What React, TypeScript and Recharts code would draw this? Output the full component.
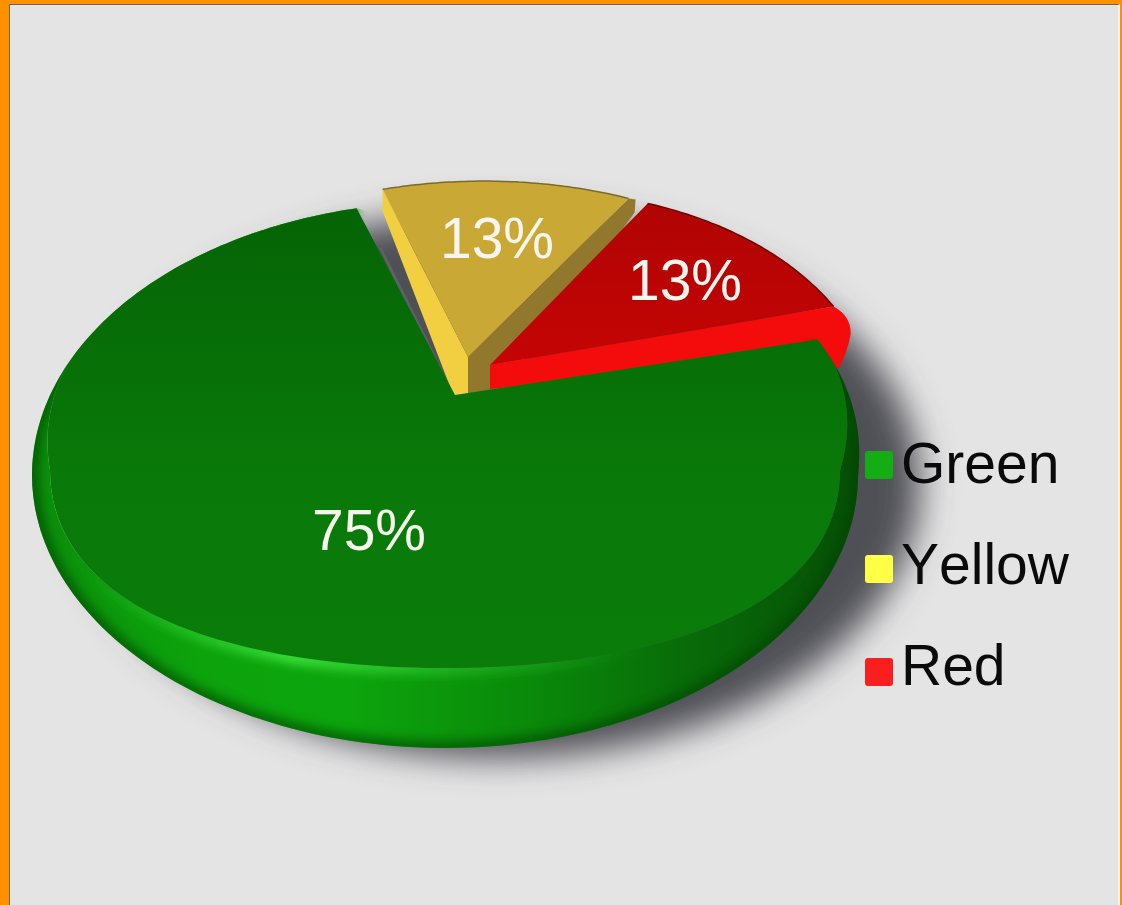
import React from "react";
import { PieChart, Pie, Legend } from "recharts";

// Slice order runs clockwise from the upper edge of the yellow wedge, so the
// big green slice paints last and overlaps the walls of the pulled-out wedges.
const sliceNames = ["Yellow", "Red", "Green"];
const sliceValues = [13, 13, 75];
const legendOrder = ["Green", "Yellow", "Red"];
const swatchColors: Record<string, string> = { Green: "#14ae14", Yellow: "#ffff45", Red: "#fa1e1e" };
const swatchDrop: Record<string, number> = { Green: 2, Yellow: 8, Red: 12 };

const rows = sliceNames.map((name, i) => ({ name, value: sliceValues[i], fill: swatchColors[name] }));

const WIDTH = 1122;
const HEIGHT = 905;
const CX = 445;
const CY = 475;
const RADIUS = 413;
const TILT = 273 / 413;
const PERSPECTIVE = 0.29;
const FONT = '"Liberation Sans", Arial, sans-serif';

type Pt = { x: number; y: number };

// Moves an angle on the flat disc to its place on the tilted, foreshortened one.
function project(deg: number) {
  const a = (deg * Math.PI) / 180;
  const d = 1 + PERSPECTIVE * Math.sin(a);
  return {
    c: (Math.cos(a) * Math.sqrt(1 - PERSPECTIVE * PERSPECTIVE)) / d,
    s: (Math.sin(a) + PERSPECTIVE) / d,
  };
}

function outer(deg: number, cx: number, cy: number, r: number): Pt {
  const { c, s } = project(deg);
  return { x: cx + r * c, y: cy - r * TILT * s };
}

// The far right of the green body swells a little beyond the plain ellipse.
function rightBulge(c: number, s: number) {
  return c > 0 && s > 0 ? 32 * c * s : 0;
}

function silhouette(deg: number, cx: number, cy: number, r: number): Pt {
  const { c, s } = project(deg);
  return { x: cx + r * c + rightBulge(c, s), y: cy - r * TILT * s };
}

// Edge of the upper face: it leaves the silhouette towards the front, where the rim shows.
function face(deg: number, cx: number, cy: number, r: number): Pt {
  const { c, s } = project(deg);
  const g = Math.min(1, Math.max(0, (-s + 0.4) / 1.4));
  const inset = 18 * Math.min(1, g / 0.286);
  return {
    x: cx + c * (r - inset) + rightBulge(c, s),
    y: cy - r * TILT * s - 80 * Math.pow(g, 2.2),
  };
}

function sweep(from: number, to: number, f: (deg: number) => Pt, n = 120): Pt[] {
  const out: Pt[] = [];
  for (let i = 0; i <= n; i++) out.push(f(from + ((to - from) * i) / n));
  return out;
}

const toPath = (pts: Pt[], close = true) =>
  pts.map((p, i) => `${i ? "L" : "M"}${p.x.toFixed(1)} ${p.y.toFixed(1)}`).join(" ") + (close ? " Z" : "");

// Offsets of the pulled-out wedges from the disc centre and arc.
const wedgeLayout: Record<string, { apex: [number, number]; arcFrom: [number, number]; arcTo: [number, number] }> = {
  Yellow: { apex: [23, -118], arcFrom: [26, -19], arcTo: [27, -24] },
  Red: { apex: [45, -110], arcFrom: [46, -19], arcTo: [30, -33] },
};

const labelAnchors: Record<string, [number, number]> = {
  Yellow: [497, 258],
  Red: [685, 300],
  Green: [369, 550],
};

function GreenSlice({ cx, cy, outerRadius: r, startAngle, endAngle }: any) {
  const rimOut = sweep(startAngle, endAngle, (d) => silhouette(d, cx, cy, r), 240);
  const rimIn = sweep(startAngle, endAngle, (d) => face(d, cx, cy, r), 240);
  const apex = { x: cx + 10, y: cy - 80 };
  return (
    <g>
      <clipPath id="rimClip">
        <path d={toPath(rimOut)} />
      </clipPath>
      <path d={toPath([...rimOut, ...rimIn.slice().reverse()])} fill="url(#rimFill)" />
      <g clipPath="url(#rimClip)">
        <path d={toPath(rimOut, false)} fill="none" stroke="#054405" strokeWidth={12} filter="url(#soft6)" opacity={0.75} />
        <path d={toPath(rimIn, false)} fill="none" stroke="url(#rimGlow)" strokeWidth={16} filter="url(#soft4)" />
      </g>
      <path d={toPath([apex, ...rimIn])} fill="url(#greenTop)" />
    </g>
  );
}

function YellowSlice({ cx, cy, outerRadius: r, startAngle, endAngle }: any) {
  const L = wedgeLayout.Yellow;
  const apex = { x: cx + L.apex[0], y: cy + L.apex[1] };
  const arc = sweep(startAngle, endAngle, (d) => {
    const t = (d - startAngle) / (endAngle - startAngle);
    const p = outer(d, cx, cy, r);
    return { x: p.x + L.arcFrom[0] + (L.arcTo[0] - L.arcFrom[0]) * t, y: p.y + L.arcFrom[1] + (L.arcTo[1] - L.arcFrom[1]) * t };
  }, 60);
  const first = arc[0];
  const last = arc[arc.length - 1];
  const leftWall = [first, apex, { x: apex.x + 2, y: apex.y + 38 }, { x: apex.x - 14, y: apex.y + 40 }, { x: first.x, y: first.y + 22 }];
  const rightWall = [apex, { x: apex.x, y: apex.y + 38 }, { x: apex.x + 30, y: apex.y + 38 }, { x: last.x + 6, y: last.y + 14 }, { x: last.x + 7, y: last.y + 1 }, last];
  const sliver = [{ x: first.x, y: first.y + 60 }, { x: apex.x - 14, y: apex.y + 36 }, { x: apex.x - 22, y: apex.y + 36 }, { x: first.x - 5, y: first.y + 55 }];
  return (
    <g>
      <path d={toPath(sliver)} fill="#5f6068" />
      <path d={toPath(leftWall)} fill="#f2cf40" />
      <path d={toPath(rightWall)} fill="#91782c" />
      <path d={toPath([apex, ...arc])} fill="#c9a835" />
      <path d={toPath(arc, false)} fill="none" stroke="#7d6a2a" strokeWidth={1.5} />
    </g>
  );
}

function RedSlice({ cx, cy, outerRadius: r, startAngle, endAngle }: any) {
  const L = wedgeLayout.Red;
  const apex = { x: cx + L.apex[0], y: cy + L.apex[1] };
  const arc = sweep(startAngle, endAngle, (d) => {
    const t = (d - startAngle) / (endAngle - startAngle);
    const p = outer(d, cx, cy, r);
    return { x: p.x + L.arcFrom[0] + (L.arcTo[0] - L.arcFrom[0]) * t, y: p.y + L.arcFrom[1] + (L.arcTo[1] - L.arcFrom[1]) * t };
  }, 60);
  const last = arc[arc.length - 1];
  const wall =
    `M${apex.x} ${apex.y} L${apex.x} ${apex.y + 24} L${last.x - 20} ${last.y + 50} L${last.x + 5} ${last.y + 62} ` +
    `Q${last.x + 14} ${last.y + 45} ${last.x + 17} ${last.y + 28} Q${last.x + 18} ${last.y + 10} ${last.x} ${last.y} Z`;
  return (
    <g>
      <path d={wall} fill="#f40c0c" />
      <path d={toPath([apex, ...arc])} fill="url(#redTop)" />
      <path d={toPath(arc, false)} fill="none" stroke="#6d0505" strokeWidth={1.5} />
    </g>
  );
}

function renderSlice(props: any) {
  if (props.name === "Green") return <GreenSlice {...props} />;
  if (props.name === "Yellow") return <YellowSlice {...props} />;
  return <RedSlice {...props} />;
}

function renderLabel(props: any) {
  const [x, y] = labelAnchors[props.name];
  return (
    <text x={x} y={y} textAnchor="middle" fontFamily={FONT} fontSize={57} fill="#f6f6ee">
      {`${props.value}%`}
    </text>
  );
}

function LegendRows({ payload }: any) {
  const items = legendOrder.map((n) => (payload || []).find((p: any) => p.value === n)).filter(Boolean);
  return (
    <div>
      {items.map((item: any) => (
        <div key={item.value} style={{ display: "flex", alignItems: "center", height: 101, lineHeight: "101px" }}>
          <span
            style={{
              display: "block",
              width: 28,
              height: 28,
              marginTop: swatchDrop[item.value],
              marginRight: 8,
              borderRadius: 3,
              background: item.color,
            }}
          />
          <span style={{ fontFamily: FONT, fontSize: 57, color: "#0a0a0a", fontKerning: "none" }}>{item.value}</span>
        </div>
      ))}
    </div>
  );
}

export default function App() {
  return (
    <div style={{ position: "absolute", left: 0, top: 0, width: WIDTH, height: HEIGHT, background: "#ff9000", overflow: "hidden" }}>
      <div
        style={{
          position: "absolute",
          left: 9,
          top: 4,
          width: WIDTH - 11,
          height: HEIGHT - 4,
          boxSizing: "border-box",
          background: "#e4e4e4",
          borderLeft: "1.5px solid #666",
          borderTop: "1.5px solid #666",
          borderRight: "2px solid #f2f2f2",
        }}
      />
      <div style={{ position: "absolute", left: 0, top: 0 }}>
        <PieChart width={WIDTH} height={HEIGHT} margin={{ top: 0, right: 0, bottom: 0, left: 0 }}>
          <defs>
            <filter id="soft4" x="-20%" y="-20%" width="140%" height="140%">
              <feGaussianBlur stdDeviation={5} />
            </filter>
            <filter id="soft6" x="-20%" y="-20%" width="140%" height="140%">
              <feGaussianBlur stdDeviation={6} />
            </filter>
            <filter id="castShadow" x="-20%" y="-20%" width="140%" height="140%">
              <feGaussianBlur stdDeviation={17} />
            </filter>
            <linearGradient id="rimFill" gradientUnits="userSpaceOnUse" x1={32} y1={0} x2={858} y2={0}>
              <stop offset="0" stopColor="#0a8f0a" />
              <stop offset="0.2" stopColor="#0ca30c" />
              <stop offset="0.38" stopColor="#0da50d" />
              <stop offset="0.6" stopColor="#0a8a0a" />
              <stop offset="0.8" stopColor="#086a08" />
              <stop offset="1" stopColor="#064f06" />
            </linearGradient>
            <linearGradient id="rimGlow" gradientUnits="userSpaceOnUse" x1={80} y1={0} x2={640} y2={0}>
              <stop offset="0" stopColor="#2ed02e" stopOpacity={0} />
              <stop offset="0.38" stopColor="#36dc36" stopOpacity={1} />
              <stop offset="0.7" stopColor="#2cc42c" stopOpacity={0.45} />
              <stop offset="1" stopColor="#2cc42c" stopOpacity={0} />
            </linearGradient>
            <linearGradient id="greenTop" gradientUnits="userSpaceOnUse" x1={0} y1={215} x2={0} y2={668}>
              <stop offset="0" stopColor="#056405" />
              <stop offset="0.6" stopColor="#097a09" />
              <stop offset="1" stopColor="#0a7c0a" />
            </linearGradient>
            <linearGradient id="redTop" gradientUnits="userSpaceOnUse" x1={0} y1={205} x2={0} y2={385}>
              <stop offset="0" stopColor="#b00404" />
              <stop offset="1" stopColor="#c80404" />
            </linearGradient>
          </defs>
          <ellipse cx={498} cy={485} rx={422} ry={273} fill="#505056" filter="url(#castShadow)" />
          <Pie
            data={rows}
            dataKey="value"
            nameKey="name"
            cx={CX}
            cy={CY}
            innerRadius={0}
            outerRadius={RADIUS}
            startAngle={106.6}
            endAngle={-253.4}
            stroke="none"
            isAnimationActive={false}
            shape={renderSlice}
            label={renderLabel}
            labelLine={false}
          />
          <Legend
            layout="vertical"
            align="right"
            verticalAlign="top"
            content={LegendRows}
            wrapperStyle={{ position: "absolute", left: 865, top: 413, width: 250, margin: 0 }}
          />
        </PieChart>
      </div>
    </div>
  );
}
